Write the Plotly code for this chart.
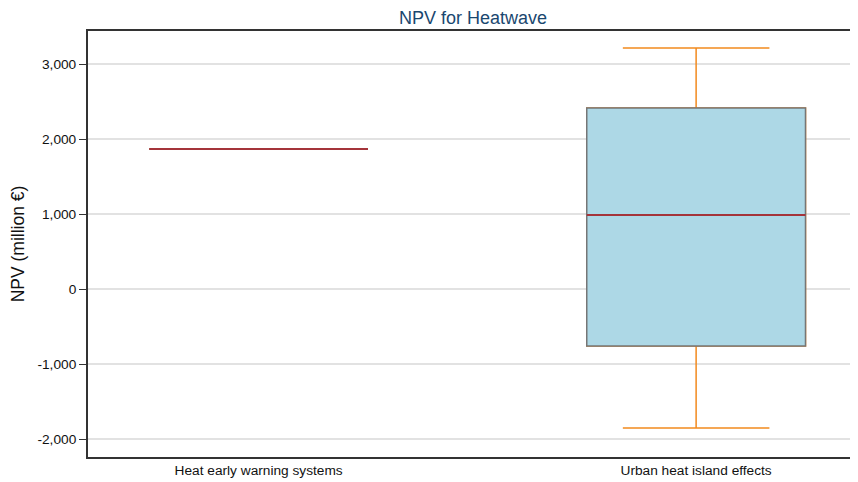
import plotly.graph_objects as go

# values (million €)
options = ['Heat early warning systems', 'Urban heat island effects']
lower_whisker = [1867, -1853]
q1 = [1867, -760]
median = [1867, 987]
q3 = [1867, 2413]
upper_whisker = [1867, 3213]

tick_vals = [-2000, -1000, 0, 1000, 2000, 3000]
tick_text = ['-2,000', '-1,000', '0', '1,000', '2,000', '3,000']

FONT = 'Arial, Liberation Sans, Helvetica, sans-serif'

fig = go.Figure()

# whiskers (orange)
fig.add_trace(go.Box(
    x=options,
    lowerfence=lower_whisker,
    q1=q1,
    median=median,
    q3=q3,
    upperfence=upper_whisker,
    width=0.5,
    whiskerwidth=0.67,
    fillcolor='rgba(0,0,0,0)',
    line=dict(color='#f28a1e', width=1.5),
    hoverinfo='skip',
    showlegend=False
))

# box body (light blue with grey outline)
fig.add_trace(go.Box(
    x=options,
    lowerfence=q1,
    q1=q1,
    median=median,
    q3=q3,
    upperfence=q3,
    width=0.5,
    whiskerwidth=0,
    fillcolor='#add8e6',
    line=dict(color='#767676', width=1.5),
    showlegend=False
))

# median line (dark red)
fig.add_trace(go.Box(
    x=options,
    lowerfence=median,
    q1=median,
    median=median,
    q3=median,
    upperfence=median,
    width=0.5,
    whiskerwidth=0,
    fillcolor='rgba(0,0,0,0)',
    line=dict(color='#a4343a', width=2.2),
    hoverinfo='skip',
    showlegend=False
))

# page body has an 8px margin, so the figure is a bit smaller than the window
fig.update_layout(
    width=850,
    height=474,
    boxmode='overlay',
    plot_bgcolor='white',
    paper_bgcolor='white',
    margin=dict(l=80, r=0, t=23, b=25),
    font=dict(family=FONT, size=13.7, color='#111111'),
    title=dict(
        text='NPV for Heatwave',
        x=0.5,
        xref='paper',
        xanchor='center',
        y=1,
        yref='container',
        yanchor='top',
        pad=dict(t=3),
        font=dict(family=FONT, size=18, color='#1a476f')
    ),
    xaxis=dict(
        range=[-0.39, 1.37],
        showgrid=False,
        showline=True,
        linecolor='#333333',
        linewidth=2,
        mirror=True,
        ticks='',
        tickfont=dict(size=13.7, color='#111111')
    ),
    yaxis=dict(
        title=dict(text='NPV (million €)', font=dict(size=17.5, color='#111111'), standoff=10),
        range=[-2240, 3440],
        tickvals=tick_vals,
        ticktext=tick_text,
        showgrid=True,
        gridcolor='#e2e2e2',
        gridwidth=1.5,
        zeroline=False,
        showline=True,
        linecolor='#333333',
        linewidth=2,
        ticks='outside',
        ticklen=7,
        tickcolor='#333333',
        tickfont=dict(size=13.7, color='#111111')
    )
)

fig.write_html('out.html')
